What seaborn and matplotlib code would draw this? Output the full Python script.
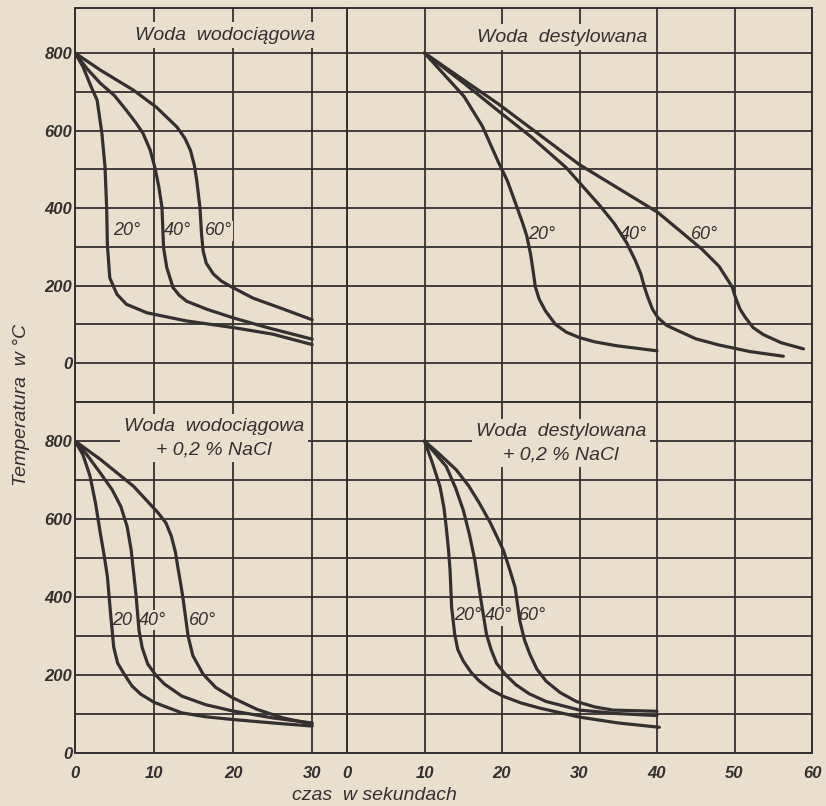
import numpy as np
import pandas as pd
import seaborn as sns
import matplotlib.pyplot as plt

# woda wodociagowa (czas [s], temperatura [C])
tl_20_t = [0, 1.0, 2.0, 2.8, 3.4, 3.8, 4.0, 4.1, 4.4, 5.3, 6.5, 9.1, 14.1, 20, 25, 30]
tl_20_T = [800, 765, 715, 678, 593, 505, 402, 303, 220, 178, 152, 130, 109, 92, 75, 48]
tl_40_t = [0, 1.5, 3.2, 5.0, 6.5, 7.7, 8.6, 9.5, 10.1, 10.6, 11.0, 11.2, 11.6, 12.4, 13.2, 14.1, 16.7, 20, 24.3, 30]
tl_40_T = [800, 760, 722, 690, 652, 620, 593, 550, 505, 455, 402, 298, 247, 195, 175, 160, 139, 117, 92, 62]
tl_60_t = [0, 3.2, 7.4, 10.3, 12.9, 13.9, 14.6, 15.1, 15.4, 15.8, 16.0, 16.2, 16.6, 17.5, 18.5, 19.6, 22.5, 26.3, 30]
tl_60_T = [800, 756, 704, 660, 609, 580, 549, 510, 471, 402, 334, 290, 258, 230, 212, 199, 168, 140, 112]

# woda destylowana
tr_20_t = [10, 15.1, 17.5, 19.5, 20.7, 21.7, 22.6, 23.2, 23.7, 24.0, 24.3, 24.8, 25.6, 26.9, 28.3, 30, 32, 34.8, 40]
tr_20_T = [800, 688, 610, 520, 470, 415, 365, 328, 280, 240, 197, 165, 135, 100, 80, 66, 55, 45, 32]
tr_40_t = [10, 15.1, 19.5, 23.8, 28.3, 32.6, 34.5, 36.1, 37.2, 37.9, 38.4, 38.8, 39.4, 40.1, 41.2, 42.7, 45, 48, 52, 56.3]
tr_40_T = [800, 722, 651, 583, 504, 407, 360, 310, 265, 231, 195, 171, 140, 118, 98, 84, 63, 47, 30, 18]
tr_60_t = [10, 19.5, 30, 40.1, 45.8, 48, 49.7, 50.1, 50.7, 51.4, 52.4, 53.7, 56, 58.9]
tr_60_T = [800, 669, 512, 389, 294, 250, 197, 171, 140, 118, 92, 74, 53, 37]

# woda wodociagowa + 0,2 % NaCl
bl_20_t = [0, 1.0, 1.9, 2.6, 3.2, 3.7, 4.1, 4.5, 4.9, 5.4, 6.2, 7.2, 8.3, 10, 11.8, 13.5, 16.5, 19.9, 25, 30]
bl_20_T = [800, 765, 710, 640, 564, 505, 452, 357, 271, 230, 203, 172, 151, 130, 116, 103, 93, 86, 77, 69]
bl_40_t = [0, 1.5, 3.2, 4.7, 5.8, 6.6, 7.1, 7.4, 7.7, 8.1, 8.5, 9.2, 10.2, 11.3, 13.5, 16.5, 19.9, 25, 30]
bl_40_T = [800, 765, 718, 675, 632, 580, 521, 465, 409, 314, 270, 228, 200, 177, 146, 124, 108, 90, 77]
bl_60_t = [0, 3.2, 7.4, 10.5, 11.5, 12.2, 12.7, 13.0, 13.4, 13.7, 14.3, 14.9, 16.2, 17.8, 19.9, 23, 26.3, 30]
bl_60_T = [800, 753, 684, 616, 590, 555, 515, 477, 430, 391, 300, 250, 202, 168, 142, 112, 90, 74]

# woda destylowana + 0,2 % NaCl
br_20_t = [10, 11.0, 12.0, 12.5, 12.8, 13.1, 13.3, 13.5, 13.9, 14.3, 15.0, 16.0, 17.1, 18.5, 20.2, 22.5, 24.9, 30, 35, 40.3]
br_20_T = [800, 745, 683, 630, 580, 520, 468, 374, 304, 265, 236, 207, 184, 163, 145, 128, 115, 92, 77, 66]
br_40_t = [10, 11.3, 12.8, 14.0, 15.0, 15.8, 16.5, 17.3, 18.0, 18.6, 19.3, 20.5, 21.8, 23.5, 25.7, 30, 35, 40]
br_40_T = [800, 770, 735, 680, 623, 560, 494, 390, 304, 265, 230, 200, 175, 152, 132, 110, 101, 96]
br_60_t = [10, 12, 14.1, 15.7, 17.1, 18.5, 20.2, 21.0, 21.7, 22.3, 22.9, 23.6, 24.5, 25.7, 27.5, 29.6, 32, 34.3, 40]
br_60_T = [800, 765, 726, 685, 640, 590, 519, 470, 424, 339, 290, 253, 215, 184, 155, 132, 118, 110, 107]

temps = ['20°', '40°', '60°']
bl_labels = ['20', '40°', '60°']

paper = '#eadfcc'
ink = '#353030'

sns.set_theme(style='white')
plt.rcParams['font.family'] = ['Liberation Sans', 'DejaVu Sans']

W, H = 826, 806
fig = plt.figure(figsize=(W / 100, H / 100), dpi=100, facecolor=paper)


def px_axes(x0, y0, x1, y1):
    return fig.add_axes([x0 / W, 1 - y1 / H, (x1 - x0) / W, (y1 - y0) / H])


def make_df(ts, Ts):
    rows = []
    for name, t, T in zip(temps, ts, Ts):
        rows.append(pd.DataFrame({'t': t, 'T': T, 'temp': name}))
    return pd.concat(rows, ignore_index=True)


ax_tl = px_axes(75, 8, 347, 402)
ax_tr = px_axes(347, 8, 812, 402)
ax_bl = px_axes(75, 402, 347, 753)
ax_br = px_axes(347, 402, 812, 753)

panels = [
    (ax_tl, [tl_20_t, tl_40_t, tl_60_t], [tl_20_T, tl_40_T, tl_60_T], (0, 34.4), (-100, 916)),
    (ax_tr, [tr_20_t, tr_40_t, tr_60_t], [tr_20_T, tr_40_T, tr_60_T], (0, 60), (-100, 916)),
    (ax_bl, [bl_20_t, bl_40_t, bl_60_t], [bl_20_T, bl_40_T, bl_60_T], (0, 34.4), (0, 900)),
    (ax_br, [br_20_t, br_40_t, br_60_t], [br_20_T, br_40_T, br_60_T], (0, 60), (0, 900)),
]

for ax, ts, Ts, xl, yl in panels:
    ax.set_facecolor(paper)
    df = make_df(ts, Ts)
    sns.lineplot(data=df, x='t', y='T', hue='temp', units='temp', estimator=None,
                 palette={k: ink for k in temps}, legend=False, sort=False,
                 lw=2.3, ax=ax, zorder=3)
    ax.set_xlim(*xl)
    ax.set_ylim(*yl)
    ax.set_xticks(np.arange(0, xl[1] + 0.1, 10))
    ax.set_yticks(np.arange(max(yl[0], -100), 801, 100))
    ax.grid(True, color=ink, lw=1.3)
    ax.set_axisbelow(True)
    for s in ax.spines.values():
        s.set_color(ink)
        s.set_linewidth(1.4)
    ax.tick_params(length=0, labelcolor=ink)
    ax.set_xlabel('')
    ax.set_ylabel('')

tick_font = dict(fontsize=12, fontstyle='italic', fontweight='bold', color=ink)

for ax in (ax_tl, ax_bl):
    ax.set_yticklabels([str(int(v)) if v >= 0 and v % 200 == 0 else '' for v in ax.get_yticks()], **tick_font)
    ax.tick_params(axis='y', pad=2)
for ax in (ax_tr, ax_br):
    ax.set_yticklabels([])
for ax in (ax_tl, ax_tr):
    ax.set_xticklabels([])
for ax in (ax_bl, ax_br):
    ax.set_xticklabels([str(int(v)) for v in ax.get_xticks()], **tick_font)
    ax.tick_params(axis='x', pad=9)

lab_font = dict(fontsize=13, fontstyle='italic', color=ink, ha='center', va='center',
                bbox=dict(facecolor=paper, edgecolor='none', pad=1), zorder=2.5)

# curve labels
for x, lab in zip([6.6, 13.0, 18.1], temps):
    ax_tl.text(x, 342, lab, **lab_font)
for x, lab in zip([25.1, 37.0, 46.2], temps):
    ax_tr.text(x, 333, lab, **lab_font)
for x, lab in zip([6.0, 9.8, 16.2], bl_labels):
    ax_bl.text(x, 340, lab, **lab_font)
for x, lab in zip([15.6, 19.5, 24.0], temps):
    ax_br.text(x, 352, lab, **lab_font)

title_font = dict(fontsize=14, fontstyle='italic', color=ink, ha='center', va='center',
                  bbox=dict(facecolor=paper, edgecolor='none', pad=3), linespacing=1.5)

fig.text(225 / W, 1 - 35 / H, 'Woda  wodociągowa', **title_font)
fig.text(562 / W, 1 - 37 / H, 'Woda  destylowana', **title_font)
fig.text(214 / W, 1 - 438 / H, 'Woda  wodociągowa\n+ 0,2 % NaCl', **title_font)
fig.text(561 / W, 1 - 443 / H, 'Woda  destylowana\n+ 0,2 % NaCl', **title_font)

fig.text(22 / W, 1 - 405 / H, 'Temperatura  w °C', rotation=90, fontsize=14,
         fontstyle='italic', color=ink, ha='center', va='center')
fig.text(374 / W, 1 - 795 / H, 'czas  w sekundach', fontsize=14,
         fontstyle='italic', color=ink, ha='center', va='center')

fig.savefig('out.png', dpi=100, facecolor=paper)
